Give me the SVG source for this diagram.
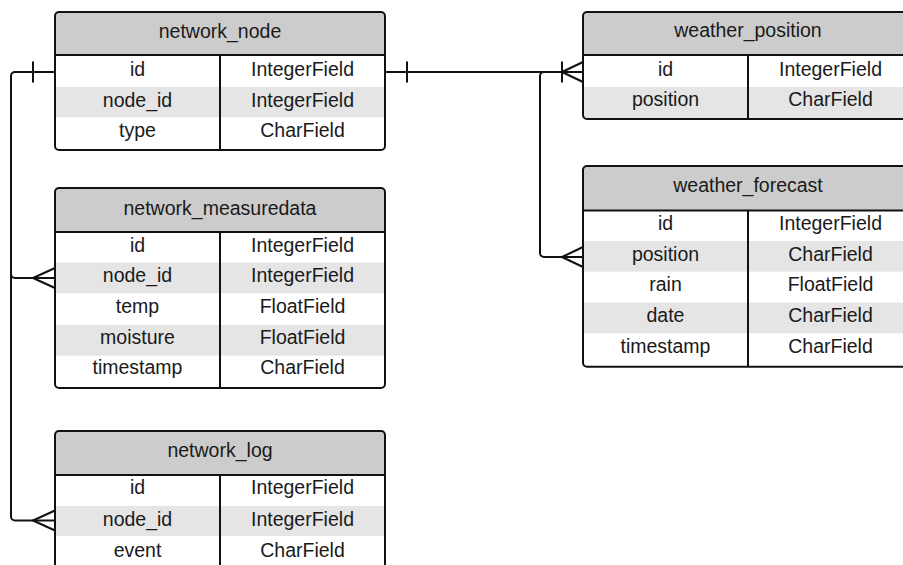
<svg xmlns="http://www.w3.org/2000/svg" width="903" height="565" viewBox="0 0 903 565">
  <style>
    .body { fill: #ffffff; }
    .head { fill: #cccccc; }
    .alt { fill: #e5e5e5; }
    .frame { fill: none; stroke: #111111; stroke-width: 2; }
    .rule { stroke: #111111; stroke-width: 2; }
    .wire { fill: none; stroke: #111111; stroke-width: 2; stroke-linejoin: round; }
    text { font-family: "Liberation Sans", Arial, sans-serif; font-size: 19.5px; fill: #1a1a1a; text-anchor: middle; }
  </style>

  <!-- relationship lines -->
  <g id="connectors">
    <!-- network_node.id to node_id of measuredata and log -->
    <path class="wire" d="M55,72 H15 A4,4 0 0 0 11,76 V516.5 A4,4 0 0 0 15,520.5 H55"/>
    <path class="wire" d="M11,274 A4,4 0 0 0 15,278 H55"/>
    <path class="wire" d="M33,61.5 V82.5"/>
    <path class="wire" d="M55,268 L33,278 L55,288"/>
    <path class="wire" d="M55,510.5 L33,520.5 L55,530.5"/>
    <!-- network_node.id to weather tables -->
    <path class="wire" d="M385,72 H583"/>
    <path class="wire" d="M407,61.5 V82.5"/>
    <path class="wire" d="M562,61.5 V82.5"/>
    <path class="wire" d="M583,62 L562,72 L583,82"/>
    <path class="wire" d="M583,257 H544 A4,4 0 0 1 540,253 V76 A4,4 0 0 1 544,72"/>
    <path class="wire" d="M583,247 L562,257 L583,267"/>
  </g>

  <!-- network_node -->
  <g id="network_node">
    <rect class="body" x="55" y="12" width="330" height="138" rx="4"/>
    <path class="head" d="M55,55 V16 A4,4 0 0 1 59,12 H381 A4,4 0 0 1 385,16 V55 Z"/>
    <rect class="alt" x="55" y="86.8" width="330" height="30.6"/>
    <line class="rule" x1="55" y1="55" x2="385" y2="55"/>
    <line class="rule" x1="220" y1="55" x2="220" y2="150"/>
    <rect class="frame" x="55" y="12" width="330" height="138" rx="4"/>
    <text x="220" y="37.5">network_node</text>
    <text x="137.5" y="76">id</text>
    <text x="302.5" y="76">IntegerField</text>
    <text x="137.5" y="106.7">node_id</text>
    <text x="302.5" y="106.7">IntegerField</text>
    <text x="137.5" y="136.7">type</text>
    <text x="302.5" y="136.7">CharField</text>
  </g>

  <!-- network_measuredata -->
  <g id="network_measuredata">
    <rect class="body" x="55" y="188" width="330" height="200" rx="4"/>
    <path class="head" d="M55,232 V192 A4,4 0 0 1 59,188 H381 A4,4 0 0 1 385,192 V232 Z"/>
    <rect class="alt" x="55" y="262.7" width="330" height="30.6"/>
    <rect class="alt" x="55" y="325" width="330" height="30.7"/>
    <line class="rule" x1="55" y1="232" x2="385" y2="232"/>
    <line class="rule" x1="220" y1="232" x2="220" y2="388"/>
    <rect class="frame" x="55" y="188" width="330" height="200" rx="4"/>
    <text x="220" y="214.5">network_measuredata</text>
    <text x="137.5" y="251.7">id</text>
    <text x="302.5" y="251.7">IntegerField</text>
    <text x="137.5" y="282">node_id</text>
    <text x="302.5" y="282">IntegerField</text>
    <text x="137.5" y="312.7">temp</text>
    <text x="302.5" y="312.7">FloatField</text>
    <text x="137.5" y="343.5">moisture</text>
    <text x="302.5" y="343.5">FloatField</text>
    <text x="137.5" y="374.3">timestamp</text>
    <text x="302.5" y="374.3">CharField</text>
  </g>

  <!-- network_log -->
  <g id="network_log">
    <rect class="body" x="55" y="431" width="330" height="160" rx="4"/>
    <path class="head" d="M55,475 V435 A4,4 0 0 1 59,431 H381 A4,4 0 0 1 385,435 V475 Z"/>
    <rect class="alt" x="55" y="506" width="330" height="30"/>
    <line class="rule" x1="55" y1="475" x2="385" y2="475"/>
    <line class="rule" x1="220" y1="475" x2="220" y2="591"/>
    <rect class="frame" x="55" y="431" width="330" height="160" rx="4"/>
    <text x="220" y="456.7">network_log</text>
    <text x="137.5" y="494.3">id</text>
    <text x="302.5" y="494.3">IntegerField</text>
    <text x="137.5" y="525.5">node_id</text>
    <text x="302.5" y="525.5">IntegerField</text>
    <text x="137.5" y="556.5">event</text>
    <text x="302.5" y="556.5">CharField</text>
  </g>

  <!-- weather_position -->
  <g id="weather_position">
    <rect class="body" x="583" y="12" width="330" height="107" rx="4"/>
    <path class="head" d="M583,55 V16 A4,4 0 0 1 587,12 H909 A4,4 0 0 1 913,16 V55 Z"/>
    <rect class="alt" x="583" y="87" width="330" height="32"/>
    <line class="rule" x1="583" y1="55" x2="913" y2="55"/>
    <line class="rule" x1="748" y1="55" x2="748" y2="119"/>
    <rect class="frame" x="583" y="12" width="330" height="107" rx="4"/>
    <text x="748" y="37">weather_position</text>
    <text x="665.5" y="76">id</text>
    <text x="830.5" y="76">IntegerField</text>
    <text x="665.5" y="106.3">position</text>
    <text x="830.5" y="106.3">CharField</text>
  </g>

  <!-- weather_forecast -->
  <g id="weather_forecast">
    <rect class="body" x="583" y="166" width="330" height="200.7" rx="4"/>
    <path class="head" d="M583,210.5 V170 A4,4 0 0 1 587,166 H909 A4,4 0 0 1 913,170 V210.5 Z"/>
    <rect class="alt" x="583" y="241" width="330" height="30.7"/>
    <rect class="alt" x="583" y="302.7" width="330" height="30.6"/>
    <line class="rule" x1="583" y1="210.5" x2="913" y2="210.5"/>
    <line class="rule" x1="748" y1="210.5" x2="748" y2="366.7"/>
    <rect class="frame" x="583" y="166" width="330" height="200.7" rx="4"/>
    <text x="748" y="191.7">weather_forecast</text>
    <text x="665.5" y="229.5">id</text>
    <text x="830.5" y="229.5">IntegerField</text>
    <text x="665.5" y="260.5">position</text>
    <text x="830.5" y="260.5">CharField</text>
    <text x="665.5" y="291">rain</text>
    <text x="830.5" y="291">FloatField</text>
    <text x="665.5" y="321.8">date</text>
    <text x="830.5" y="321.8">CharField</text>
    <text x="665.5" y="353">timestamp</text>
    <text x="830.5" y="353">CharField</text>
  </g>
</svg>
